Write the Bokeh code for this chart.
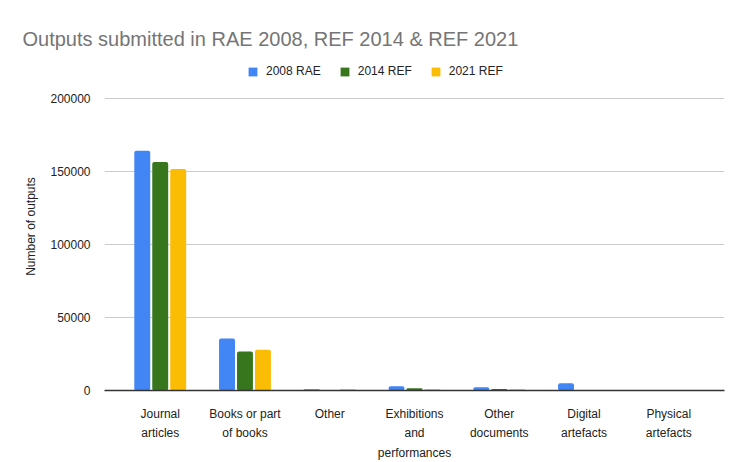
from bokeh.plotting import figure
from bokeh.models import ColumnDataSource, FactorRange, Legend, LegendItem, NumeralTickFormatter
from bokeh.transform import dodge
from bokeh.embed import file_html
from bokeh.resources import INLINE

categories = ["Journal\narticles", "Books or part\nof books", "Other", "Exhibitions\nand\nperformances",
              "Other\ndocuments", "Digital\nartefacts", "Physical\nartefacts"]
rae_2008 = [164400, 35600, 800, 3000, 2300, 5000, 200]
ref_2014 = [156800, 26700, 400, 1600, 1000, 300, 200]
ref_2021 = [152000, 28000, 800, 800, 800, 300, 200]
series_names = ["2008 RAE", "2014 REF", "2021 REF"]
colors = ["#4285f4", "#38761d", "#fbbc04"]
y_ticks = [0, 50000, 100000, 150000, 200000]

FONT = "Liberation Sans"

src = ColumnDataSource(dict(cat=categories, a=rae_2008, b=ref_2014, c=ref_2021))

p = figure(width=748, height=462, x_range=FactorRange(factors=categories, range_padding=0.045),
           y_range=(0, 225000), output_backend="svg", toolbar_location=None,
           min_border_left=104, min_border_right=24, min_border_top=62, min_border_bottom=72)

p.title.text = "Outputs submitted in RAE 2008, REF 2014 & REF 2021"
p.title.text_font = FONT
p.title.text_font_size = "20px"
p.title.text_font_style = "normal"
p.title.text_color = "#757575"
p.title.offset = -82
p.title.standoff = 25

renderers = []
for key, off, col in zip(["a", "b", "c"], [-0.212, 0.0, 0.212], colors):
    r = p.vbar(x=dodge("cat", off, range=p.x_range), top=key, width=0.188, source=src,
               fill_color=col, line_color=None, border_radius=2)
    renderers.append(r)

legend = Legend(items=[LegendItem(label=n, renderers=[r]) for n, r in zip(series_names, renderers)],
                orientation="horizontal", location=(143, 312),
                label_text_font=FONT, label_text_font_size="12px", label_text_color="#222222",
                glyph_width=11, glyph_height=11, spacing=18, label_standoff=8,
                border_line_color=None, background_fill_alpha=0, padding=0, margin=0)
p.add_layout(legend)

p.yaxis.ticker = y_ticks
p.yaxis.formatter = NumeralTickFormatter(format="0")
p.yaxis.axis_line_color = None
p.yaxis.major_tick_line_color = None
p.yaxis.minor_tick_line_color = None
p.yaxis.major_label_text_font = FONT
p.yaxis.major_label_text_font_size = "12px"
p.yaxis.major_label_text_color = "#222222"
p.yaxis.major_label_standoff = 8
p.yaxis.axis_label = "Number of outputs"
p.yaxis.axis_label_text_font = FONT
p.yaxis.axis_label_text_font_size = "12px"
p.yaxis.axis_label_text_font_style = "normal"
p.yaxis.axis_label_text_color = "#222222"
p.yaxis.axis_label_standoff = 9

p.xaxis.axis_line_color = "#333333"
p.xaxis.axis_line_width = 1.5
p.xaxis.major_tick_line_color = None
p.xaxis.minor_tick_line_color = None
p.xaxis.major_label_text_font = FONT
p.xaxis.major_label_text_font_size = "12px"
p.xaxis.major_label_text_color = "#222222"
p.xaxis.major_label_text_line_height = 1.4
p.xaxis.major_label_standoff = 10

p.xgrid.grid_line_color = None
p.ygrid.grid_line_color = "#cccccc"
p.outline_line_color = None

open("out.html", "w").write(file_html(p, INLINE))
